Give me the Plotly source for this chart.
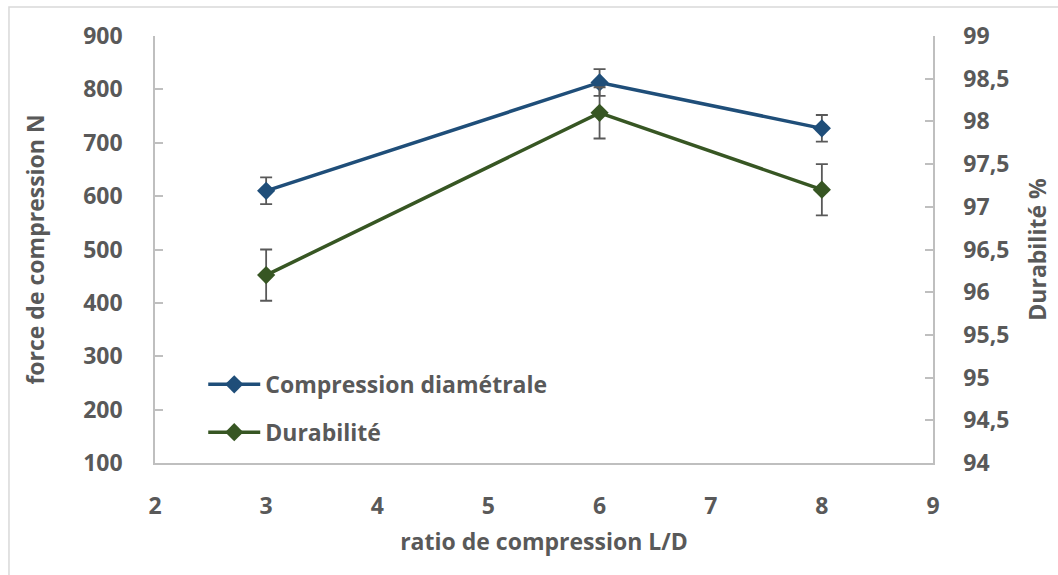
import plotly.graph_objects as go

# L/D compression ratios tested
ratio_ld = [3, 6, 8]

# Diametral compression force (N) with its standard deviation
compression_n = [610, 813, 727]
compression_err = [25, 25, 25]

# Pellet durability (%) with its standard deviation
durabilite_pct = [96.2, 98.1, 97.2]
durabilite_err = [0.3, 0.3, 0.3]

x_ticks = [2, 3, 4, 5, 6, 7, 8, 9]
left_ticks = [100, 200, 300, 400, 500, 600, 700, 800, 900]
right_ticks = [94, 94.5, 95, 95.5, 96, 96.5, 97, 97.5, 98, 98.5, 99]

BLUE = "#1F4E79"
GREEN = "#375623"
TEXT = "#595959"
AXIS = "#BFBFBF"
FONT = "Open Sans"

fig = go.Figure()

fig.add_trace(go.Scatter(
    x=ratio_ld, y=compression_n, name="Compression diamétrale",
    mode="lines+markers",
    line=dict(color=BLUE, width=3.5),
    marker=dict(symbol="diamond", size=14, color=BLUE),
    error_y=dict(type="data", array=compression_err, color=TEXT,
                 thickness=1.8, width=6),
    legendgroup="a",
))

fig.add_trace(go.Scatter(
    x=ratio_ld, y=durabilite_pct, name="Durabilité",
    mode="lines+markers", yaxis="y2",
    line=dict(color=GREEN, width=3.5),
    marker=dict(symbol="diamond", size=14, color=GREEN),
    error_y=dict(type="data", array=durabilite_err, color=TEXT,
                 thickness=1.8, width=6),
    legendgroup="b",
))

tick_font = dict(family=FONT, size=23, color=TEXT, weight="bold")

fig.update_layout(
    width=1058, height=575,
    margin=dict(l=155, r=125, t=36, b=112),
    paper_bgcolor="white", plot_bgcolor="white",
    separators=", ",
    font=dict(family=FONT, color=TEXT),
    xaxis=dict(
        range=[2, 9], tickvals=x_ticks, showgrid=False, zeroline=False,
        showline=True, linecolor=AXIS, linewidth=1.5, ticks="",
        tickfont=tick_font, ticklabelstandoff=22,
        title=dict(text="ratio de compression L/D", font=tick_font, standoff=14),
    ),
    yaxis=dict(
        range=[100, 900], tickvals=left_ticks, showgrid=False, zeroline=False,
        showline=True, linecolor=AXIS, linewidth=1.5,
        ticks="inside", ticklen=8, tickcolor=AXIS, tickwidth=1.5,
        tickfont=tick_font, ticklabelstandoff=26,
        title=dict(text="force de compression N", font=tick_font, standoff=32),
    ),
    yaxis2=dict(
        range=[94, 99], tickvals=right_ticks, overlaying="y", side="right",
        showgrid=False, zeroline=False,
        showline=True, linecolor=AXIS, linewidth=1.5,
        ticks="inside", ticklen=8, tickcolor=AXIS, tickwidth=1.5,
        tickfont=tick_font, ticklabelstandoff=24,
        title=dict(text="Durabilité %", font=tick_font, standoff=22),
    ),
    showlegend=True,
    legend=dict(
        x=0.062, y=0.128, xanchor="left", yanchor="middle",
        bgcolor="rgba(0,0,0,0)", font=tick_font,
        tracegroupgap=15, itemwidth=52,
    ),
    shapes=[dict(
        type="rect", xref="paper", yref="paper",
        x0=-0.1877, x1=1.2, y0=-0.4, y1=1.068,
        line=dict(color="#D9D9D9", width=1.5), fillcolor="rgba(0,0,0,0)",
        layer="below",
    )],
)

fig.write_html("out.html")
